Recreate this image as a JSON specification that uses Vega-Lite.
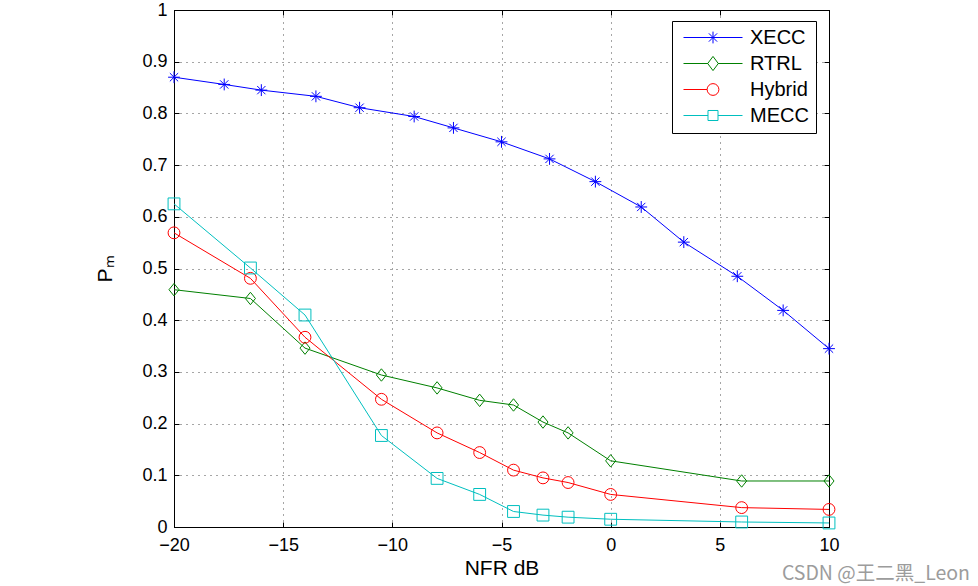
{
  "$schema": "https://vega.github.io/schema/vega-lite/v6.json",
  "width": 655,
  "height": 517,
  "autosize": "none",
  "padding": {"left": 174, "top": 10, "right": 149, "bottom": 59},
  "background": "white",
  "title": {"text": "CSDN @王二黑_Leon", "orient": "bottom", "anchor": "end", "font": "Noto Sans CJK SC", "fontSize": 19.5, "fontWeight": "normal", "color": "#9c9c9c", "dx": 131, "offset": -13},
  "config": {
    "view": {"stroke": "black", "strokeWidth": 1},
    "axis": {
      "labelFont": "Liberation Sans", "labelFontSize": 18, "labelColor": "black", "labelFlush": false, "labelOverlap": false,
      "titleFont": "Liberation Sans", "titleFontSize": 21, "titleFontWeight": "normal", "titleColor": "black",
      "domainColor": "black", "tickColor": "black", "tickSize": -5, "labelPadding": 12,
      "gridColor": "black", "gridDash": [1, 5], "gridOpacity": 0.7, "gridWidth": 1
    },
    "legend": {"labelFont": "Liberation Sans", "labelFontSize": 20, "labelColor": "black"}
  },
  "data": {"values": [
    {"series": "XECC", "x": -20, "y": 0.870}, {"series": "XECC", "x": -17.7, "y": 0.856}, {"series": "XECC", "x": -16.0, "y": 0.845}, {"series": "XECC", "x": -13.5, "y": 0.833}, {"series": "XECC", "x": -11.5, "y": 0.811}, {"series": "XECC", "x": -9.0, "y": 0.794}, {"series": "XECC", "x": -7.2, "y": 0.772}, {"series": "XECC", "x": -5.0, "y": 0.745}, {"series": "XECC", "x": -2.8, "y": 0.712}, {"series": "XECC", "x": -0.7, "y": 0.668}, {"series": "XECC", "x": 1.4, "y": 0.619}, {"series": "XECC", "x": 3.35, "y": 0.551}, {"series": "XECC", "x": 5.8, "y": 0.485}, {"series": "XECC", "x": 7.9, "y": 0.419}, {"series": "XECC", "x": 10, "y": 0.345},
    {"series": "RTRL", "x": -20, "y": 0.459}, {"series": "RTRL", "x": -16.5, "y": 0.442}, {"series": "RTRL", "x": -14.0, "y": 0.346}, {"series": "RTRL", "x": -10.5, "y": 0.294}, {"series": "RTRL", "x": -7.95, "y": 0.269}, {"series": "RTRL", "x": -6.0, "y": 0.245}, {"series": "RTRL", "x": -4.45, "y": 0.236}, {"series": "RTRL", "x": -3.1, "y": 0.203}, {"series": "RTRL", "x": -1.95, "y": 0.182}, {"series": "RTRL", "x": 0, "y": 0.128}, {"series": "RTRL", "x": 6.0, "y": 0.089}, {"series": "RTRL", "x": 10, "y": 0.089},
    {"series": "Hybrid", "x": -20, "y": 0.569}, {"series": "Hybrid", "x": -16.5, "y": 0.481}, {"series": "Hybrid", "x": -14.0, "y": 0.367}, {"series": "Hybrid", "x": -10.5, "y": 0.247}, {"series": "Hybrid", "x": -7.95, "y": 0.182}, {"series": "Hybrid", "x": -6.0, "y": 0.144}, {"series": "Hybrid", "x": -4.45, "y": 0.110}, {"series": "Hybrid", "x": -3.1, "y": 0.095}, {"series": "Hybrid", "x": -1.95, "y": 0.086}, {"series": "Hybrid", "x": 0, "y": 0.063}, {"series": "Hybrid", "x": 6.0, "y": 0.0375}, {"series": "Hybrid", "x": 10, "y": 0.034},
    {"series": "MECC", "x": -20, "y": 0.625}, {"series": "MECC", "x": -16.5, "y": 0.501}, {"series": "MECC", "x": -14.0, "y": 0.410}, {"series": "MECC", "x": -10.5, "y": 0.177}, {"series": "MECC", "x": -7.95, "y": 0.094}, {"series": "MECC", "x": -6.0, "y": 0.063}, {"series": "MECC", "x": -4.45, "y": 0.030}, {"series": "MECC", "x": -3.1, "y": 0.023}, {"series": "MECC", "x": -1.95, "y": 0.019}, {"series": "MECC", "x": 0, "y": 0.015}, {"series": "MECC", "x": 6.0, "y": 0.0097}, {"series": "MECC", "x": 10, "y": 0.0078}
  ]},
  "layer": [
    {
      "mark": {"type": "line", "strokeWidth": 1},
      "encoding": {
        "x": {"field": "x", "type": "quantitative", "scale": {"domain": [-20, 10], "nice": false, "zero": false},
              "axis": {"orient": "bottom", "values": [-20, -15, -10, -5, 0, 5, 10], "title": "NFR dB", "labelPadding": 14, "titlePadding": 3, "grid": true}},
        "y": {"field": "y", "type": "quantitative", "scale": {"domain": [0, 1], "nice": false},
              "axis": {"orient": "left", "values": [0, 0.1, 0.2, 0.3, 0.4, 0.5, 0.6, 0.7, 0.8, 0.9, 1], "format": ".1~f", "title": "Pₘ", "titlePadding": 26, "grid": true}},
        "color": {"field": "series", "type": "nominal", "scale": {"domain": ["XECC", "RTRL", "Hybrid", "MECC"], "range": ["#0000ff", "#008000", "#ff0000", "#00bfbf"]}, "legend": null},
        "detail": {"field": "series"}
      }
    },
    {
      "mark": {"type": "point", "filled": false, "strokeWidth": 1, "size": 140, "opacity": 1},
      "encoding": {
        "x": {"field": "x", "type": "quantitative", "axis": {"orient": "top", "labels": false, "title": null, "grid": false, "values": [-20, -15, -10, -5, 0, 5, 10]}},
        "y": {"field": "y", "type": "quantitative", "axis": {"orient": "right", "labels": false, "title": null, "grid": false, "values": [0, 0.1, 0.2, 0.3, 0.4, 0.5, 0.6, 0.7, 0.8, 0.9, 1]}},
        "color": {"field": "series", "type": "nominal", "scale": {"domain": ["XECC", "RTRL", "Hybrid", "MECC"], "range": ["#0000ff", "#008000", "#ff0000", "#00bfbf"]}, "legend": null},
        "shape": {"field": "series", "type": "nominal", "scale": {"domain": ["XECC", "RTRL", "Hybrid", "MECC"], "range": ["M-1,0L1,0M0,-1L0,1M-0.7,-0.7L0.7,0.7M-0.7,0.7L0.7,-0.7", "M0,-1.05L0.85,0L0,1.05L-0.85,0Z", "circle", "square"]}, "legend": null}
      }
    },
    {
      "mark": {"type": "point", "filled": false, "strokeWidth": 1, "opacity": 0},
      "encoding": {
        "x": {"field": "x", "type": "quantitative", "axis": null},
        "y": {"field": "y", "type": "quantitative", "axis": null},
        "color": {"field": "series", "type": "nominal", "scale": {"domain": ["XECC", "RTRL", "Hybrid", "MECC"], "range": ["#0000ff", "#008000", "#ff0000", "#00bfbf"]},
          "legend": {"title": null, "orient": "none", "legendX": 498, "legendY": 11, "symbolSize": 3481, "symbolOpacity": 1, "symbolStrokeWidth": 1, "clipHeight": 19, "rowPadding": 5, "labelOffset": 7, "padding": 7, "strokeColor": "black", "fillColor": "white", "symbolOffset": 4}},
        "shape": {"field": "series", "type": "nominal",
          "scale": {"domain": ["XECC", "RTRL", "Hybrid", "MECC"], "range": [
            "M-1,0L1,0M0,-0.2L0,0.2M-0.14,-0.14L0.14,0.14M-0.14,0.14L0.14,-0.14",
            "M-1,0L-0.17,0M0.17,0L1,0M0,-0.24L0.18,0L0,0.24L-0.18,0Z",
            "M-1,0L-0.2,0M0.2,0A0.2,0.2,0,1,1,-0.2,0A0.2,0.2,0,1,1,0.2,0",
            "M-1,0L-0.17,0M0.17,0L1,0M-0.17,-0.17L0.17,-0.17L0.17,0.17L-0.17,0.17Z"]},
          "legend": {"title": null, "orient": "none", "legendX": 498, "legendY": 11, "symbolSize": 3481, "symbolOpacity": 1, "symbolStrokeWidth": 1, "clipHeight": 19, "rowPadding": 5, "labelOffset": 7, "padding": 7, "strokeColor": "black", "fillColor": "white", "symbolOffset": 4}
        }
      }
    }
  ],
  "resolve": {"scale": {"shape": "independent", "color": "independent"}, "axis": {"x": "independent", "y": "independent"}}
}
